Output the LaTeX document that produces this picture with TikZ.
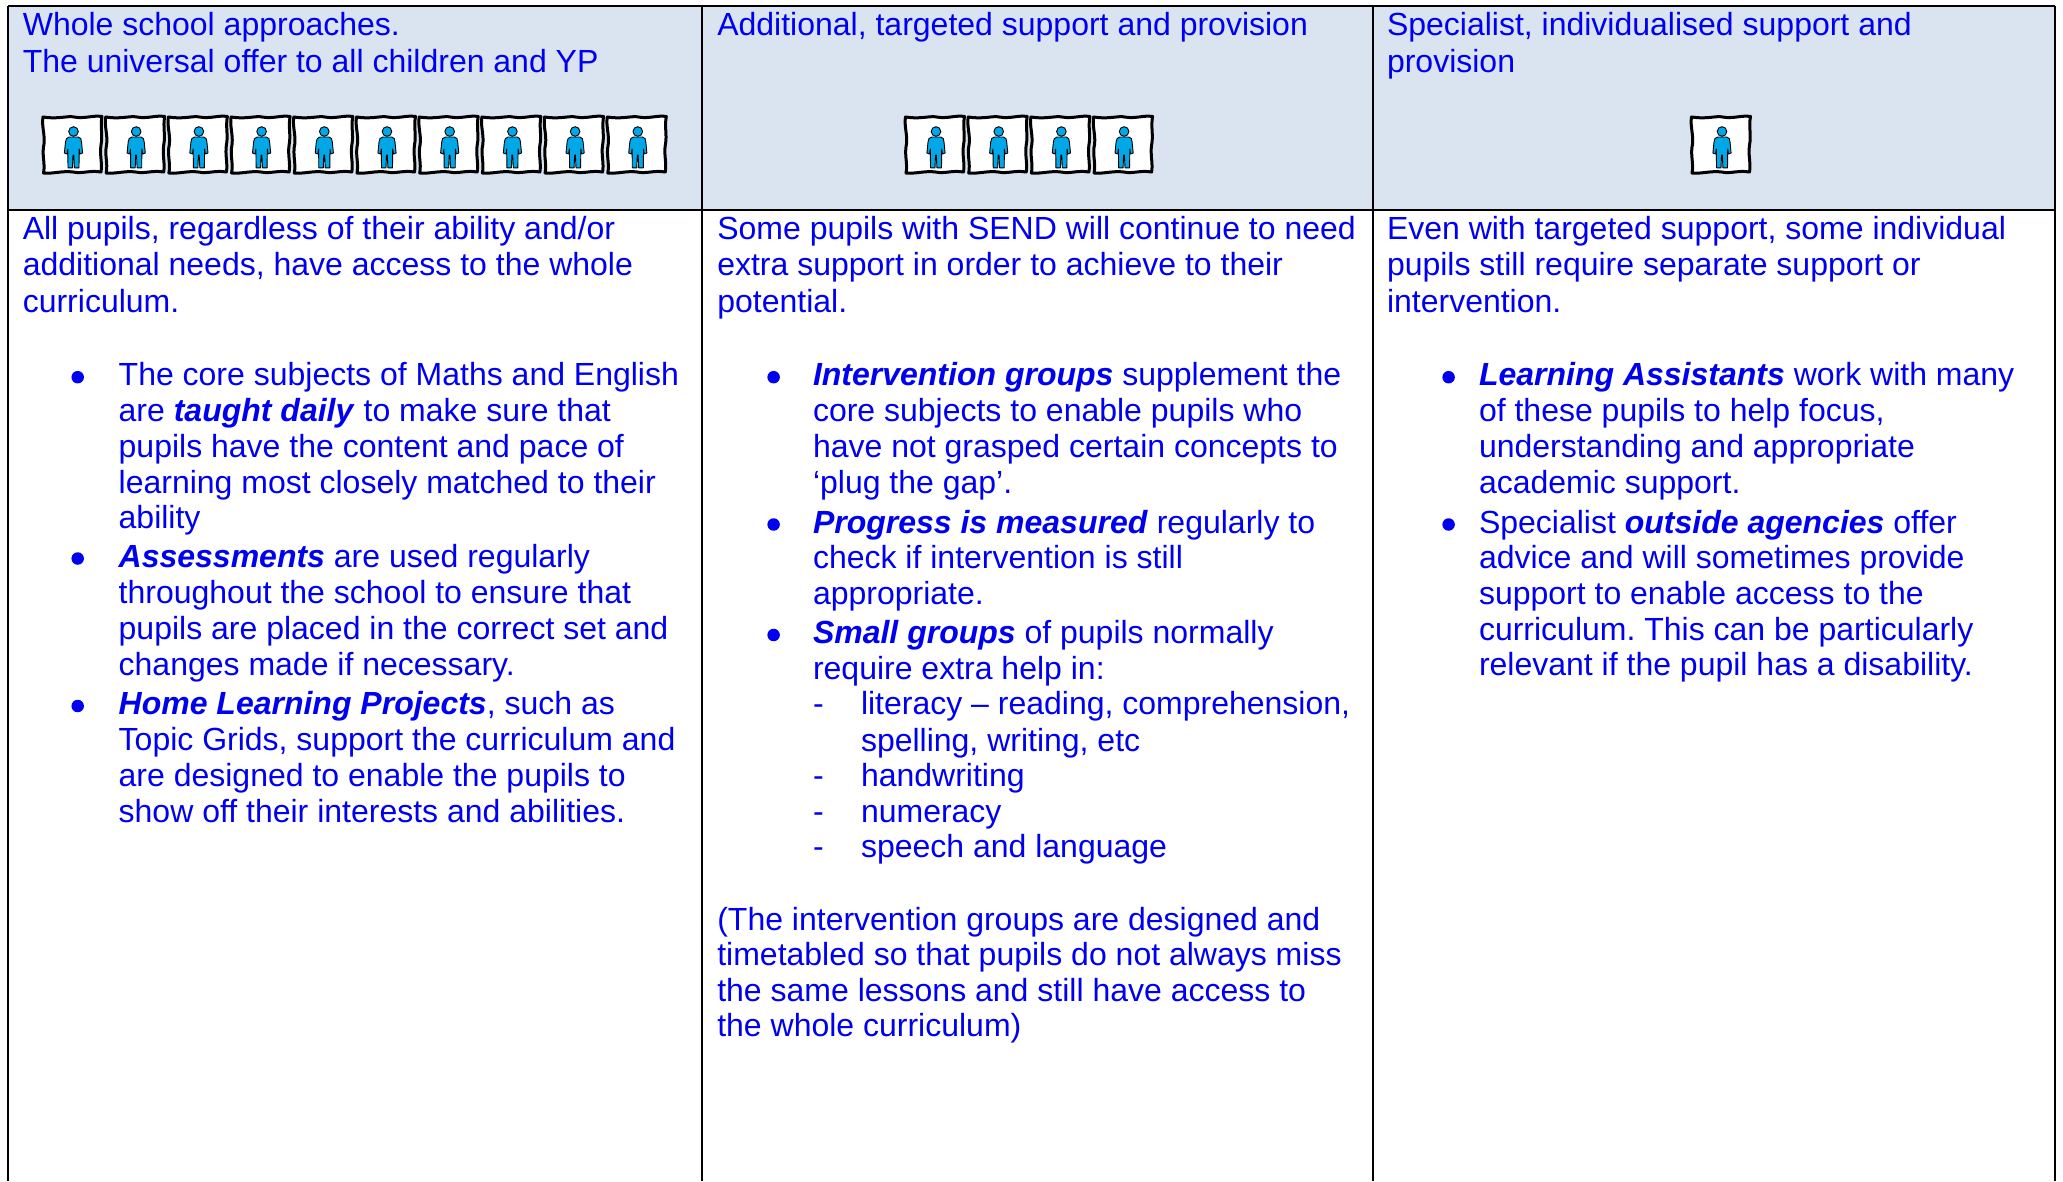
\documentclass[tikz,border=0pt]{standalone}
\usepackage{fontspec}
\setmainfont{Liberation Sans}
\frenchspacing
\definecolor{hdr}{HTML}{DAE4F0}
\definecolor{txt}{HTML}{0000F0}
\definecolor{fig}{HTML}{00A8E8}
\newcounter{tln}
\newcommand{\tl}[3]{\stepcounter{tln}\node[linetext] (t\arabic{tln}) at (#1,#2+0.8) {#3};}
\newcommand{\bl}[2]{\stepcounter{tln}\node[bulletdot] (t\arabic{tln}) at (#1,#2+0.5) {};}
\newcommand{\bi}[1]{\textbf{\textit{#1}}}
\tikzset{
  x=1pt,y=-1pt,
  linetext/.style={anchor=base west,inner sep=0pt,outer sep=0pt,text=txt,font=\fontsize{32}{36}\selectfont},
  bulletdot/.style={circle,fill=txt,draw=none,minimum size=12.5pt,inner sep=0pt},
  rule/.style={draw=black,line width=2.8pt},
  pics/pupil/.style={code={
    \draw[black,line width=3pt,fill=white,line join=round]
      (0,0) .. controls (15,2.5) and (25,-1.5) .. (31,0) .. controls (42,2) and (50,-2) .. (59,-0.5)
      .. controls (57,10) and (60,18) .. (58,28) .. controls (56.5,38) and (59.5,46) .. (58,55)
      .. controls (46,53) and (40,57) .. (30,55) .. controls (20,53.5) and (10,57) .. (0.5,56)
      .. controls (2.5,46) and (-1.5,38) .. (1,27) .. controls (2,17) and (-1.5,9) .. (0,0) -- cycle;
    \draw[black,line width=0.9pt,fill=fig] (30.5,14.5) circle (4.8);
    \draw[black,line width=0.9pt,fill=fig,line join=round]
      (26.2,20) -- (35.2,20) .. controls (37.8,20.5) and (38.3,22) .. (38.5,25) -- (39.6,36) -- (37,37) -- (36.2,32)
      -- (36,50.8) -- (31.4,50.8) -- (30.8,38) -- (30,38) -- (29.5,50.8) -- (25,50.8) -- (24.8,32) -- (24,37) -- (21.4,36)
      -- (22.5,25) .. controls (22.7,22) and (23.7,20.5) .. (26.2,20) -- cycle;
  }}
}
\begin{document}
\begin{tikzpicture}
\useasboundingbox (0,0) rectangle (2063,1181);
\fill[white] (0,0) rectangle (2063,1181);
\fill[hdr] (8,6) rectangle (2055,210);
\coordinate (tl) at (8,6); \coordinate (tr) at (2055,6);
\coordinate (hl) at (8,210); \coordinate (hr) at (2055,210);
\coordinate (bl) at (8,1181); \coordinate (br) at (2055,1181);
\coordinate (c1t) at (702,6); \coordinate (c1b) at (702,1181);
\coordinate (c2t) at (1373,6); \coordinate (c2b) at (1373,1181);
\draw[rule] (tl) -- (tr);
\draw[rule] (hl) -- (hr);
\draw[rule] (tl) -- (bl);
\draw[rule] (tr) -- (br);
\draw[rule] (c1t) -- (c1b);
\draw[rule] (c2t) -- (c2b);
\foreach \i in {0,...,9} \pic at ({43+62.7*\i},117) {pupil};
\foreach \i in {0,...,3} \pic at ({905.5+62.7*\i},117) {pupil};
\pic at (1691.5,117) {pupil};
% column 1
\tl{22.8}{35}{Whole school approaches.}
\tl{22.8}{71.5}{The universal offer to all children and YP}
\tl{22.8}{238.7}{All pupils, regardless of their ability and/or}
\tl{22.8}{275}{additional needs, have access to the whole}
\tl{22.8}{311.7}{curriculum.}
\bl{77.7}{376.7}
\tl{118.7}{385}{The core subjects of Maths and English}
\tl{118.7}{421}{are \bi{taught daily} to make sure that}
\tl{118.7}{456.7}{pupils have the content and pace of}
\tl{118.7}{492.7}{learning most closely matched to their}
\tl{118.7}{528}{ability}
\bl{77.7}{558}
\tl{118.7}{566.7}{\bi{Assessments} are used regularly}
\tl{118.7}{602.7}{throughout the school to ensure that}
\tl{118.7}{638.7}{pupils are placed in the correct set and}
\tl{118.7}{675}{changes made if necessary.}
\bl{77.7}{705.5}
\tl{118.7}{714}{\bi{Home Learning Projects}, such as}
\tl{118.7}{750}{Topic Grids, support the curriculum and}
\tl{118.7}{785.7}{are designed to enable the pupils to}
\tl{118.7}{821.7}{show off their interests and abilities.}
% column 2
\tl{717.3}{35}{Additional, targeted support and provision}
\tl{717.3}{238.7}{Some pupils with SEND will continue to need}
\tl{717.3}{275}{extra support in order to achieve to their}
\tl{717.3}{311.7}{potential.}
\bl{773.6}{376.7}
\tl{813}{385}{\bi{Intervention groups} supplement the}
\tl{813}{421}{core subjects to enable pupils who}
\tl{813}{457}{have not grasped certain concepts to}
\tl{813}{493}{‘plug the gap’.}
\bl{773.6}{524}
\tl{813}{532.3}{\bi{Progress is measured} regularly to}
\tl{813}{568}{check if intervention is still}
\tl{813}{604}{appropriate.}
\bl{773.6}{634.5}
\tl{813}{643}{\bi{Small groups} of pupils normally}
\tl{813}{678.5}{require extra help in:}
\tl{813}{714}{-}
\tl{861}{714}{literacy – reading, comprehension,}
\tl{861}{750.7}{spelling, writing, etc}
\tl{813}{786}{-}
\tl{861}{786}{handwriting}
\tl{813}{822}{-}
\tl{861}{822}{numeracy}
\tl{813}{857}{-}
\tl{861}{857}{speech and language}
\tl{717.3}{930}{(The intervention groups are designed and}
\tl{717.3}{965}{timetabled so that pupils do not always miss}
\tl{717.3}{1001}{the same lessons and still have access to}
\tl{717.3}{1036}{the whole curriculum)}
% column 3
\tl{1387}{35}{Specialist, individualised support and}
\tl{1387}{71.5}{provision}
\tl{1387}{238.7}{Even with targeted support, some individual}
\tl{1387}{275}{pupils still require separate support or}
\tl{1387}{311.7}{intervention.}
\bl{1448.6}{376.7}
\tl{1479}{385}{\bi{Learning Assistants} work with many}
\tl{1479}{421}{of these pupils to help focus,}
\tl{1479}{457}{understanding and appropriate}
\tl{1479}{493}{academic support.}
\bl{1448.6}{524}
\tl{1479}{532.3}{Specialist \bi{outside agencies} offer}
\tl{1479}{568}{advice and will sometimes provide}
\tl{1479}{604}{support to enable access to the}
\tl{1479}{640}{curriculum. This can be particularly}
\tl{1479}{675}{relevant if the pupil has a disability.}
\end{tikzpicture}
\end{document}
